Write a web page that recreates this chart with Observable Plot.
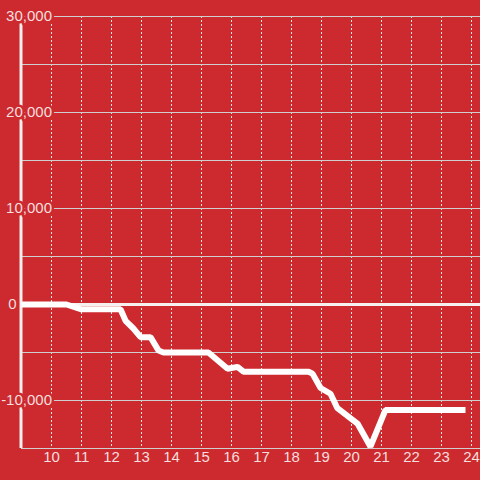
<!DOCTYPE html>
<html>
<head>
<meta charset="utf-8">
<script src="https://cdn.jsdelivr.net/npm/d3@7"></script>
<script src="https://cdn.jsdelivr.net/npm/@observablehq/plot@0.6"></script>
<style>
  html, body { margin: 0; padding: 0; background: #cc2a2f; }
</style>
</head>
<body>
<div id="chart"></div>
<script>
// Data
const hours = [9, 10.5, 11, 12.3, 12.47, 12.73, 12.97, 13.3, 13.57, 13.73, 15.23, 15.87, 16.2, 16.4, 18.57, 18.7, 18.97, 19.3, 19.53, 20.2, 20.63, 21.13, 23.8];
const values = [0, 0, -500, -500, -1700, -2500, -3400, -3400, -4800, -5000, -5000, -6700, -6500, -7000, -7000, -7200, -8700, -9300, -10800, -12400, -14800, -11000, -11000];

const xTicks = [10, 11, 12, 13, 14, 15, 16, 17, 18, 19, 20, 21, 22, 23, 24];
const yGrid = [-15000, -10000, -5000, 5000, 10000, 15000, 20000, 25000, 30000];
const yLabels = [30000, 20000, 10000, 0, -10000];

const data = hours.map((h, i) => ({hour: h, value: values[i]}));

const bg = "#cc2a2f";
const labelColor = "#f6dede";
const fmt = d => d3.format(",")(d).replace("−", "-");

const chart = Plot.plot({
  width: 480,
  height: 480,
  marginLeft: 21,
  marginRight: 0,
  marginTop: 16,
  marginBottom: 32,
  x: {domain: [9, 24.3], axis: null},
  y: {domain: [-15000, 30000], axis: null},
  style: {background: bg, fontFamily: "'Liberation Sans', Arial, sans-serif", fontSize: "15px"},
  marks: [
    Plot.ruleX(xTicks, {x: d => d, stroke: "#e6e6e6", strokeWidth: 1, strokeDasharray: "2,2"}),
    Plot.ruleY(yGrid, {y: d => d, stroke: "#cfcfcf", strokeWidth: 1}),
    Plot.ruleY([0], {y: d => d, stroke: "#f7f0f0", strokeWidth: 3}),
    Plot.ruleX([9], {x: d => d, stroke: "#f0eeee", strokeWidth: 3, dx: -0.5}),
    Plot.line(data, {x: "hour", y: "value", stroke: "#ffffff", strokeWidth: 6, strokeLinejoin: "miter", strokeLinecap: "butt"}),
    Plot.text(yLabels.filter(d => d !== 0), {
      y: d => d, text: fmt,
      frameAnchor: "left", dx: 30.5, textAnchor: "end",
      fill: labelColor, stroke: bg, strokeWidth: 5, fontSize: 15
    }),
    Plot.text(yLabels.filter(d => d === 0), {
      y: d => d, text: fmt,
      frameAnchor: "left", dx: -5, textAnchor: "end",
      fill: labelColor, stroke: bg, strokeWidth: 5, fontSize: 15
    }),
    Plot.text(xTicks, {
      x: d => d, text: d => String(d),
      frameAnchor: "bottom", dy: 13,
      fill: labelColor, fontSize: 15
    })
  ]
});

document.getElementById("chart").appendChild(chart);
</script>
</body>
</html>
